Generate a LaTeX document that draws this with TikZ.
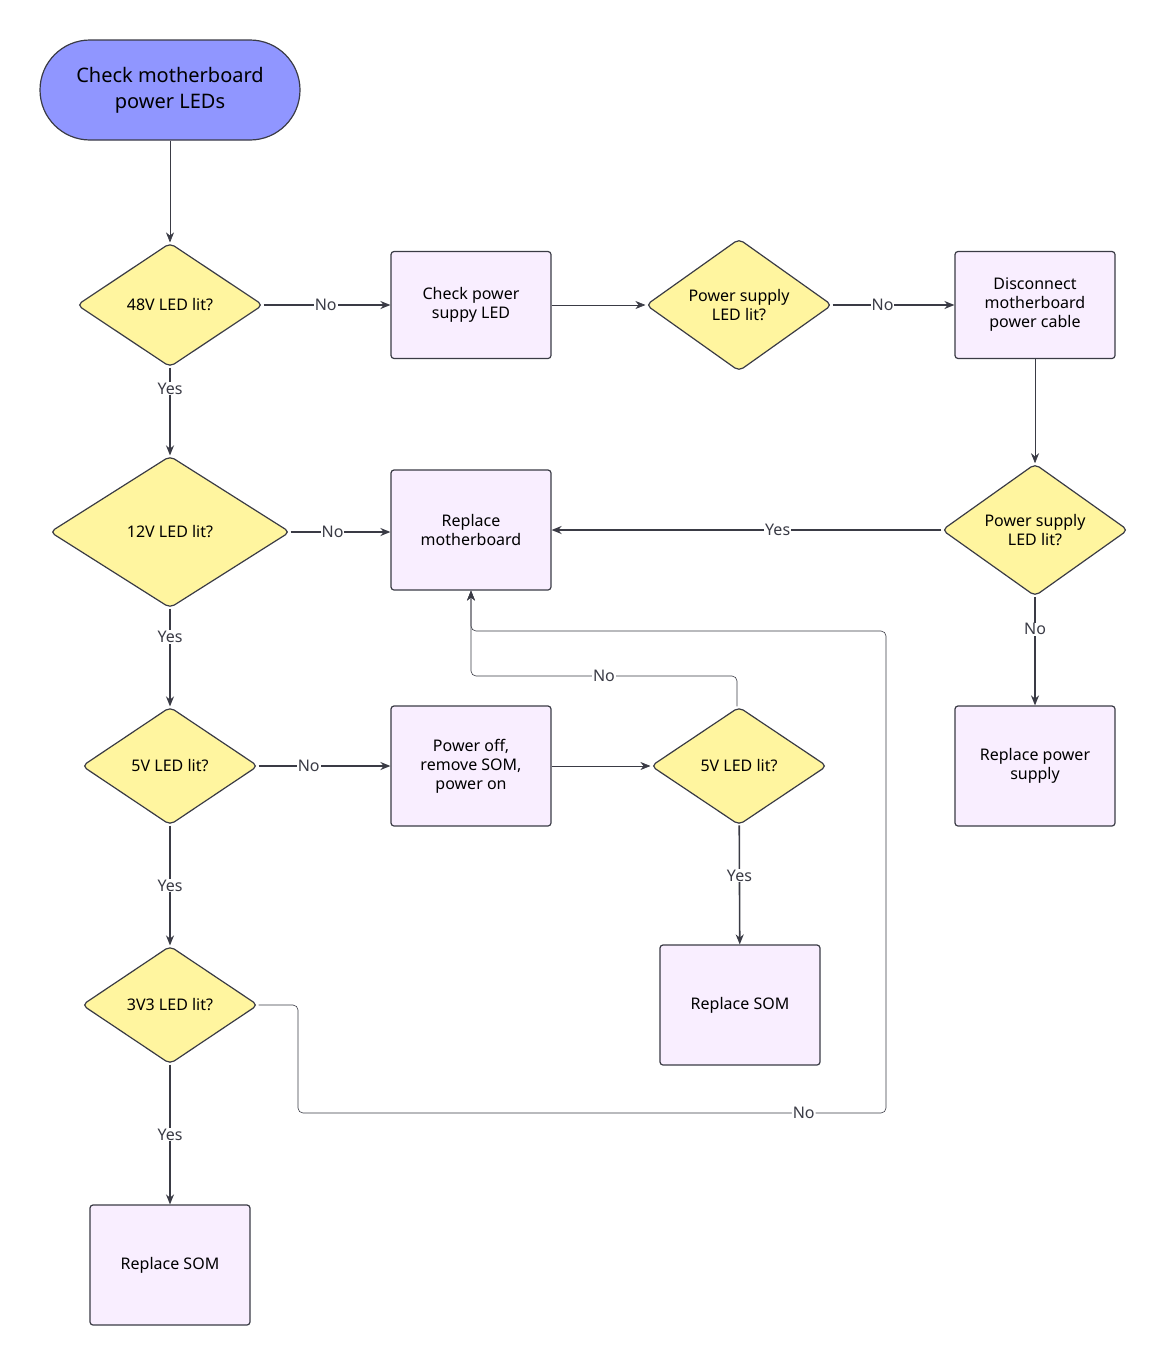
\documentclass[tikz,border=0pt]{standalone}
\usepackage{fontspec}
\setmainfont{Noto Sans}
\usetikzlibrary{shapes.geometric,arrows.meta}
\definecolor{ln}{HTML}{3A3B45}
\definecolor{dia}{HTML}{FFF59F}
\definecolor{box}{HTML}{F9EEFF}
\definecolor{st}{HTML}{9096FF}
\begin{document}
\begin{tikzpicture}[x=1pt,y=-1pt,
  every node/.style={font=\fontsize{16}{19}\selectfont, align=center, text=black},
  dec/.style={diamond, draw=ln, line width=1.2pt, fill=dia, rounded corners=5pt, inner sep=0pt},
  proc/.style={rectangle, draw=ln, line width=1.2pt, fill=box, rounded corners=3pt, minimum width=160pt},
  thin/.style={draw=ln, line width=0.6pt, -{Stealth[length=10pt,width=8pt]}, rounded corners=5pt},
  thick/.style={draw=ln, line width=1.6pt, -{Stealth[length=10pt,width=8pt]}},
  lab/.style={fill=white, inner sep=1pt, font=\bfseries\fontsize{16}{19}\selectfont, text=ln}]
\useasboundingbox (0,0) rectangle (1170,1365);
\node[draw=ln, line width=1.2pt, fill=st, rounded corners=50pt, minimum width=260pt, minimum height=100pt, font=\fontsize{20}{26}\selectfont] (start) at (170,90) {Check motherboard\\power LEDs};
\node[dec, minimum width=186pt, minimum height=124pt] (d48) at (170,305) {48V LED lit?};
\node[proc, minimum height=107pt] (cps) at (471,305) {Check power\\suppy LED};
\node[dec, minimum width=186pt, minimum height=124pt] (dp1) at (739,305) {Power supply\\LED lit?};
\node[proc, minimum height=107pt] (disc) at (1035,305) {Disconnect\\motherboard\\power cable};
\node[dec, minimum width=240pt, minimum height=152pt] (d12) at (170,532) {12V LED lit?};
\node[proc, minimum height=120pt] (rmb) at (471,530) {Replace\\motherboard};
\node[dec, minimum width=186pt, minimum height=124pt] (dp2) at (1035,530) {Power supply\\LED lit?};
\node[proc, minimum height=120pt] (rps) at (1035,766) {Replace power\\supply};
\node[dec, minimum width=176pt, minimum height=118pt] (d5) at (170,766) {5V LED lit?};
\node[proc, minimum height=120pt] (poff) at (471,766) {Power off,\\remove SOM,\\power on};
\node[dec, minimum width=176pt, minimum height=118pt] (d5b) at (739,766) {5V LED lit?};
\node[proc, minimum height=120pt] (som2) at (740,1005) {Replace SOM};
\node[dec, minimum width=176pt, minimum height=118pt] (d33) at (170,1005) {3V3 LED lit?};
\node[proc, minimum height=120pt] (som1) at (170,1265) {Replace SOM};

\draw[thin] (start) -- (d48);
\draw[thin] (cps) -- (dp1);
\draw[thin] (disc) -- (dp2);
\draw[thin] (poff) -- (d5b);
\draw[thin] (d5b.north -| 737,0) -- (737,676) -- node[lab, pos=0.5]{No} (471,676) -- (rmb.south);
\draw[thin] (d33.east) -- (298,1005) -- (298,1113) -- node[lab, pos=0.86]{No} (886,1113) -- (886,631) -- (471,631) -- (rmb.south);

\draw[thick] (d48) -- node[lab,pos=0.49]{No} (cps);
\draw[thick] (dp1) -- node[lab,pos=0.41]{No} (disc);
\draw[thick] (d48) -- node[lab,pos=0.24]{Yes} (d12);
\draw[thick] (d12) -- node[lab,pos=0.42]{No} (rmb.west |- d12);
\draw[thick] (dp2) -- node[lab,pos=0.42]{Yes} (rmb);
\draw[thick] (dp2) -- node[lab,pos=0.3]{No} (rps);
\draw[thick] (d12) -- node[lab,pos=0.29]{Yes} (d5);
\draw[thick] (d5) -- node[lab,pos=0.38]{No} (poff);
\draw[thick] (d5b) -- node[lab,pos=0.42]{Yes} (som2);
\draw[thick] (d5) -- node[lab,pos=0.5]{Yes} (d33);
\draw[thick] (d33) -- node[lab,pos=0.5]{Yes} (som1);
\end{tikzpicture}
\end{document}
